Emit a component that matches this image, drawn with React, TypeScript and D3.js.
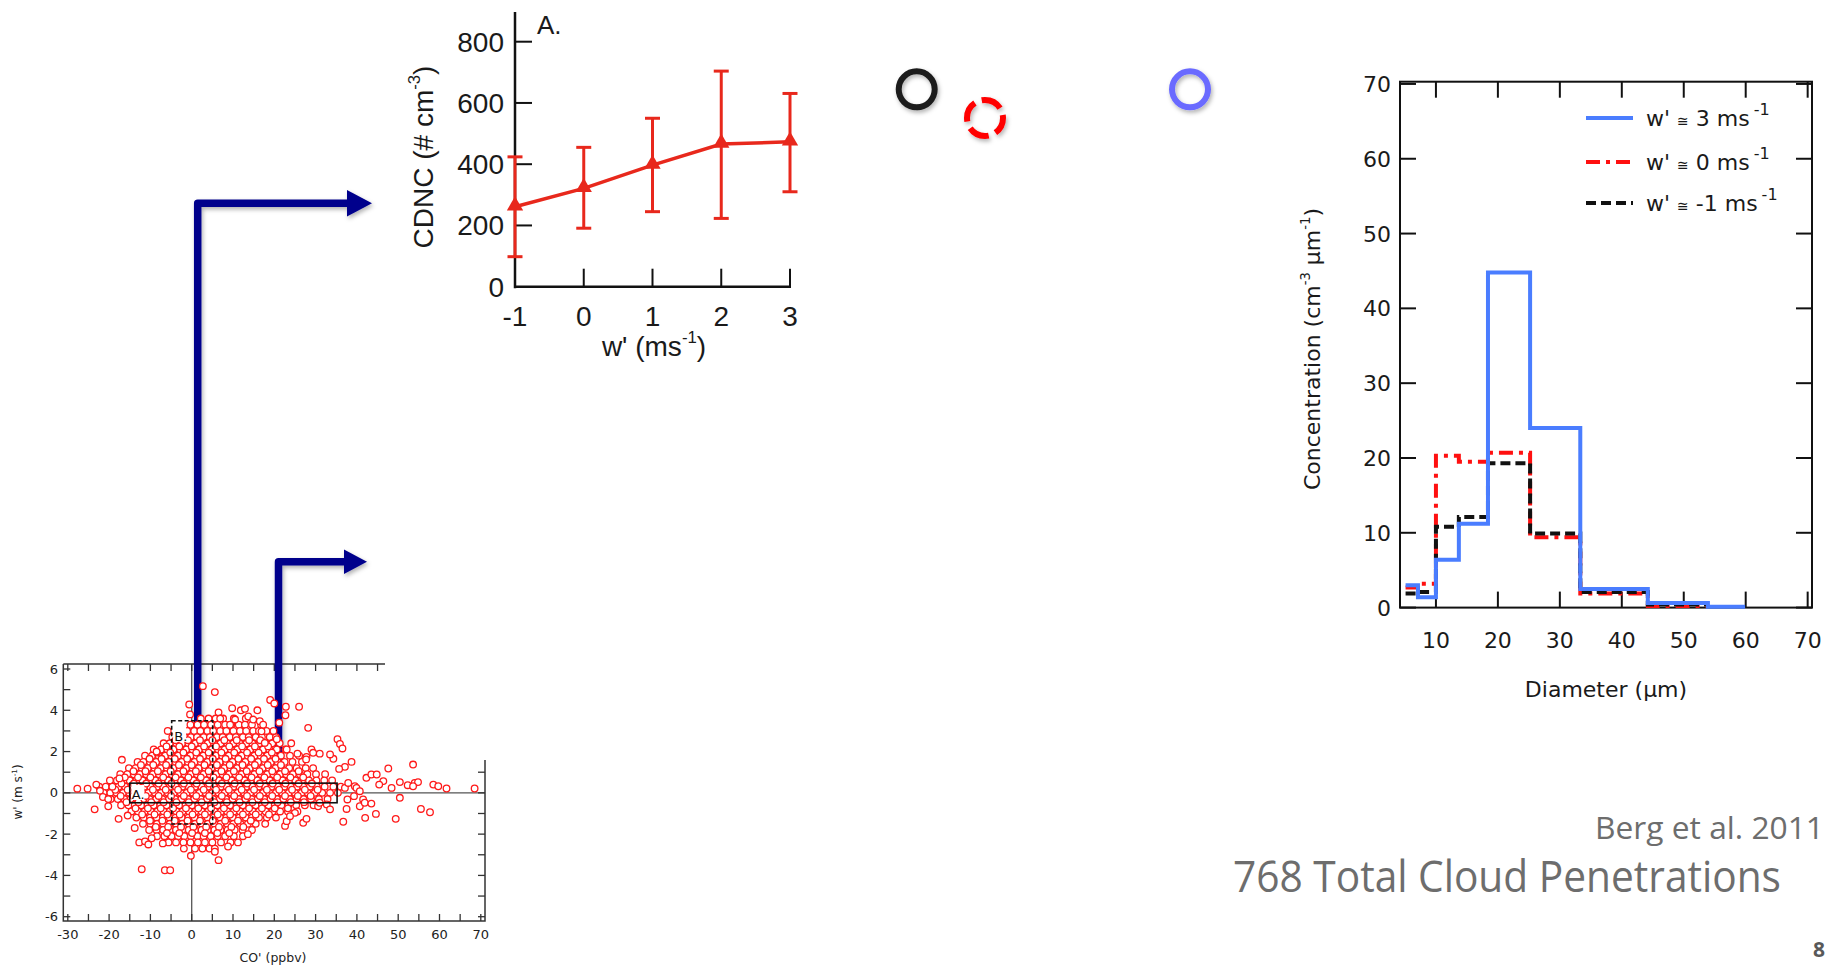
import React from 'react';
import * as d3 from 'd3';

const W = 1825, H = 969;

// ---- panel A: CDNC vs w'
const wBins = [-1, 0, 1, 2, 3];
const cdncMean = [261, 321, 397, 466, 473];
const cdncLow = [98, 191, 245, 223, 310];
const cdncHigh = [424, 455, 550, 704, 631];
const cdncTicks = [0, 200, 400, 600, 800];

// ---- droplet size distributions
const binEdges = [5.1, 7.1, 10, 13.7, 18.4, 25.2, 33.3, 44.2, 53.9, 59.9];
const concUp = [3.0, 1.4, 6.4, 11.2, 44.8, 24.0, 2.5, 0.6, 0.1];
const concZero = [2.7, 3.2, 20.3, 19.5, 20.7, 9.4, 1.9, 0.2];
const concDown = [1.9, 2.1, 10.8, 12.1, 19.3, 9.9, 2.1, 0.4];
const legendLabels = ['3', '0', '-1'];
const histXTicks = [10, 20, 30, 40, 50, 60, 70];
const histYTicks = [0, 10, 20, 30, 40, 50, 60, 70];

// ---- scatter of w' vs CO' : dense core read row by row (w', list of CO')
const coreRows: [number, number[]][] = [
  [3.6, [2.2, 4.1, 5.8, 7.6, 10.2, 13.1]],
  [3.3, [-0.3, 1.4, 3.0, 4.7, 6.3, 8.1, 9.6, 11.4, 12.9, 14.6, 16.8]],
  [3.0, [-2.6, -1.1, 0.6, 2.1, 3.8, 5.2, 6.9, 8.4, 10.1, 11.7, 13.2, 14.9, 16.3, 18.1]],
  [2.7, [-4.7, -3.2, -1.8, -0.2, 1.3, 2.9, 4.4, 6.1, 7.5, 9.2, 10.7, 12.4, 13.8, 15.5, 17.0, 18.9, 20.4]],
  [2.4, [-6.8, -5.3, -3.7, -2.3, -0.8, 0.9, 2.3, 3.9, 5.4, 7.0, 8.6, 10.1, 11.6, 13.3, 14.7, 16.4, 17.9, 19.5, 21.3]],
  [2.1, [-9.2, -7.4, -5.9, -4.4, -2.8, -1.3, 0.2, 1.8, 3.3, 4.9, 6.4, 8.0, 9.5, 11.1, 12.6, 14.2, 15.7, 17.3, 18.8, 20.6, 22.7]],
  [1.8, [-11.3, -9.6, -8.0, -6.4, -4.9, -3.3, -1.8, -0.3, 1.2, 2.8, 4.3, 5.9, 7.4, 9.0, 10.5, 12.1, 13.6, 15.2, 16.7, 18.3, 19.9, 21.6, 23.8, 26.0]],
  [1.5, [-13.1, -11.7, -10.1, -8.6, -7.0, -5.5, -3.9, -2.4, -0.9, 0.7, 2.2, 3.8, 5.3, 6.8, 8.4, 9.9, 11.5, 13.0, 14.6, 16.1, 17.7, 19.2, 20.8, 22.5, 24.4, 26.7]],
  [1.2, [-15.2, -13.6, -12.1, -10.6, -9.0, -7.5, -6.0, -4.4, -2.9, -1.3, 0.2, 1.7, 3.3, 4.8, 6.4, 7.9, 9.4, 11.0, 12.5, 14.1, 15.6, 17.2, 18.7, 20.3, 21.8, 23.6, 25.4, 27.6, 29.4]],
  [0.9, [-17.3, -15.6, -14.0, -12.5, -11.0, -9.4, -7.9, -6.3, -4.8, -3.3, -1.7, -0.2, 1.3, 2.9, 4.4, 6.0, 7.5, 9.1, 10.6, 12.1, 13.7, 15.2, 16.8, 18.3, 19.8, 21.4, 22.9, 24.5, 26.2, 28.0, 30.1, 32.3]],
  [0.6, [-19.8, -18.1, -16.5, -15.0, -13.4, -11.9, -10.3, -8.8, -7.3, -5.7, -4.2, -2.6, -1.1, 0.4, 2.0, 3.5, 5.1, 6.6, 8.1, 9.7, 11.2, 12.8, 14.3, 15.9, 17.4, 18.9, 20.5, 22.0, 23.6, 25.1, 26.7, 28.4, 30.2, 32.1, 34.0]],
  [0.3, [-22.4, -20.8, -19.2, -17.7, -16.1, -14.6, -13.0, -11.5, -10.0, -8.4, -6.9, -5.3, -3.8, -2.3, -0.7, 0.8, 2.4, 3.9, 5.4, 7.0, 8.5, 10.1, 11.6, 13.2, 14.7, 16.2, 17.8, 19.3, 20.9, 22.4, 24.0, 25.5, 27.0, 28.6, 30.3, 32.2, 34.3, 36.1]],
  [0.0, [-21.3, -19.7, -18.2, -16.6, -15.1, -13.5, -12.0, -10.5, -8.9, -7.4, -5.8, -4.3, -2.7, -1.2, 0.3, 1.9, 3.4, 5.0, 6.5, 8.0, 9.6, 11.1, 12.7, 14.2, 15.8, 17.3, 18.8, 20.4, 21.9, 23.5, 25.0, 26.6, 28.1, 29.8, 31.6, 33.5, 35.4]],
  [-0.3, [-19.6, -17.9, -16.3, -14.8, -13.2, -11.7, -10.2, -8.6, -7.1, -5.5, -4.0, -2.5, -0.9, 0.6, 2.2, 3.7, 5.2, 6.8, 8.3, 9.9, 11.4, 13.0, 14.5, 16.0, 17.6, 19.1, 20.7, 22.2, 23.8, 25.4, 27.1, 28.9, 30.8, 32.9]],
  [-0.6, [-17.1, -15.3, -13.8, -12.2, -10.7, -9.2, -7.6, -6.1, -4.5, -3.0, -1.5, 0.1, 1.6, 3.2, 4.7, 6.2, 7.8, 9.3, 10.9, 12.4, 14.0, 15.5, 17.0, 18.6, 20.1, 21.7, 23.4, 25.3, 27.4, 29.5]],
  [-0.9, [-14.6, -13.0, -11.4, -9.9, -8.3, -6.8, -5.3, -3.7, -2.2, -0.6, 0.9, 2.4, 4.0, 5.5, 7.1, 8.6, 10.2, 11.7, 13.2, 14.8, 16.3, 17.9, 19.6, 21.4, 23.3, 25.6]],
  [-1.2, [-13.4, -11.6, -10.1, -8.5, -7.0, -5.4, -3.9, -2.4, -0.8, 0.7, 2.3, 3.8, 5.3, 6.9, 8.4, 10.0, 11.5, 13.1, 14.6, 16.3, 18.2, 20.4]],
  [-1.5, [-11.8, -10.0, -8.4, -6.9, -5.3, -3.8, -2.3, -0.7, 0.8, 2.4, 3.9, 5.5, 7.0, 8.6, 10.1, 11.8, 13.6, 15.5, 17.8]],
  [-1.8, [-10.3, -8.5, -6.9, -5.4, -3.8, -2.3, -0.7, 0.8, 2.4, 3.9, 5.5, 7.0, 8.7, 10.4, 12.3, 14.6]],
  [-2.1, [-8.4, -6.6, -4.9, -3.3, -1.8, -0.2, 1.4, 2.9, 4.6, 6.3, 8.1, 10.2, 12.4]],
  [-2.4, [-5.6, -3.8, -2.0, -0.3, 1.5, 3.2, 5.0, 7.1, 9.4]],
  [-2.7, [-1.9, 0.8, 2.6, 4.3]],
];

// points lying between the rows above, where the cloud is thickest
const coreInfill: [number, number[]][] = [
  [2.55, [-3.9, -0.9, 2.0, 5.0, 7.9, 10.9, 13.9, 16.6]],
  [2.25, [-6.1, -3.0, 0.0, 3.0, 5.9, 9.1, 12.2, 15.3, 18.5]],
  [1.95, [-8.4, -5.2, -2.0, 1.1, 4.1, 7.2, 10.3, 13.4, 16.2, 19.4]],
  [1.65, [-10.2, -7.3, -4.1, -1.1, 2.0, 5.1, 8.2, 11.3, 14.4, 17.5, 20.3]],
  [1.35, [-12.3, -9.3, -6.2, -3.1, 0.0, 3.1, 6.1, 9.2, 12.3, 15.3, 18.4, 21.6]],
  [1.05, [-14.1, -11.2, -8.2, -5.1, -2.0, 1.0, 4.1, 7.2, 10.2, 13.3, 16.4, 19.5, 22.6, 25.9]],
  [0.75, [-16.2, -13.0, -10.0, -6.9, -3.9, -0.8, 2.2, 5.3, 8.4, 11.5, 14.5, 17.6, 20.7, 23.9, 27.0]],
  [0.45, [-17.0, -14.0, -11.0, -8.0, -4.9, -1.9, 1.2, 4.2, 7.3, 10.4, 13.4, 16.5, 19.6, 22.7, 25.9, 29.1]],
  [0.15, [-18.5, -15.5, -12.4, -9.4, -6.3, -3.3, -0.2, 2.9, 5.9, 9.0, 12.1, 15.1, 18.2, 21.2, 24.3, 27.4, 30.5]],
  [-0.15, [-17.2, -14.1, -11.1, -8.0, -5.0, -1.9, 1.1, 4.2, 7.3, 10.3, 13.4, 16.5, 19.5, 22.6, 25.7, 28.8]],
  [-0.45, [-15.8, -12.9, -9.8, -6.8, -3.7, -0.7, 2.4, 5.5, 8.5, 11.6, 14.7, 17.7, 20.8, 24.0, 27.2]],
  [-0.75, [-13.6, -10.6, -7.5, -4.5, -1.4, 1.6, 4.7, 7.8, 10.8, 13.9, 17.0, 20.1, 23.3]],
  [-1.05, [-12.0, -9.0, -5.9, -2.9, 0.2, 3.2, 6.3, 9.3, 12.4, 15.5, 18.7]],
  [-1.35, [-10.1, -7.1, -4.1, -1.0, 2.0, 5.1, 8.1, 11.2, 14.3]],
  [-1.65, [-8.7, -5.7, -2.6, 0.4, 3.5, 6.6, 9.6, 12.5]],
  [-1.95, [-6.0, -3.0, 0.1, 3.2, 6.2, 9.1]],
];

// scattered points outside the core (CO', w')
const outerPoints: [number, number][] = [
  [-27.7, 0.2], [-25.2, 0.2], [-23.1, 0.4], [-23.5, -0.8], [-22.2, 0.1], [-21.5, -0.2],
  [-20.2, -0.65], [-20.2, -0.3], [-19.2, 0.3], [-17.7, -1.26], [-16.9, 1.6], [-17.5, 0.7],
  [-15.5, -1.1], [-12.7, -2.4], [-11.3, -2.35], [-9.7, -2.2], [-12.1, -3.7], [-6.5, -3.75],
  [-5.2, -3.75], [-0.2, -3.05], [6.5, -3.26], [5.6, -2.7], [5.6, -2.85], [2.7, 5.17],
  [5.6, 4.88], [-0.6, 4.28], [-0.4, 3.8], [-5.8, 3.0], [-8.5, 2.0], [9.8, 4.1],
  [11.9, 4.0], [12.9, 4.07], [15.9, 4.0], [19.0, 4.5], [20.0, 4.33], [22.8, 4.17],
  [26.0, 4.17], [28.2, 3.15], [22.7, 3.76], [35.3, 2.6], [35.9, 2.37], [36.5, 2.15],
  [38.7, 1.5], [37.1, 1.26], [35.7, 1.16], [34.3, 1.65], [33.5, 1.86], [31.0, 1.9],
  [29.0, 2.1], [29.4, 1.94], [27.8, 1.74], [27.7, 1.62], [47.6, 1.18], [53.6, 1.37],
  [46.4, 0.57], [42.3, 0.73], [43.5, 0.89], [44.8, 0.89], [45.4, 0.4], [50.4, 0.52],
  [52.3, 0.37], [54.0, 0.48], [54.8, 0.52], [53.6, 0.32], [48.4, 0.24], [58.5, 0.4],
  [59.7, 0.32], [61.7, 0.21], [68.5, 0.21], [50.4, -0.24], [55.5, -0.78], [57.7, -0.94],
  [49.4, -1.26], [44.6, -1.02], [42.0, -1.21], [40.7, -0.65], [41.5, -0.32], [41.9, -0.48],
  [43.5, -0.52], [36.7, -1.4], [37.5, -0.78], [37.7, -0.32], [39.5, 0.32], [39.9, 0.24],
  [40.7, 0.08], [37.1, 0.24], [37.9, 0.48], [39.3, -0.16], [22.6, -1.6], [23.0, -1.37],
  [25.0, -0.97], [23.8, -1.13], [27.0, -1.45], [27.8, -1.26], [32.7, -0.56], [33.5, -0.8],
  [30.6, -0.65], [31.0, -0.48], [6.5, 3.9], [6.9, 3.6], [9.3, 3.3], [10.5, 3.55],
  [13.7, 3.7], [14.9, 3.55], [16.5, 3.47], [17.3, 3.3], [16.9, 2.98], [17.7, 2.42],
  [19.8, 3.0], [20.6, 2.6], [21.2, 3.4], [24.1, 2.4], [23.0, 2.1], [25.6, 1.9],
  [-13.8, -1.7], [-10.5, -2.5], [-7.0, -2.45], [11.2, -2.4], [8.8, -2.6], [13.6, -2.0],
];

const scXTicks = [-30, -20, -10, 0, 10, 20, 30, 40, 50, 60, 70];
const scYTicks = [-6, -4, -2, 0, 2, 4, 6];

const RED = '#e8281c';
const NAVY = '#00008c';

function Sup({ children, size, k = 0.6 }: { children: string; size: number; k?: number }) {
  return <tspan dy={-size * 0.45} fontSize={size * k}>{children}</tspan>;
}

function CdncChart() {
  const x = d3.scaleLinear().domain([-1, 3]).range([515, 790]);
  const y = d3.scaleLinear().domain([0, 800]).range([286.7, 41.7]);
  const line = d3.line<number>().x((d, i) => x(wBins[i])).y(d => y(d));
  const tri = d3.symbol().type(d3.symbolTriangle).size(115)();
  const fs = 28;
  return (
    <g fontFamily="Liberation Sans, Arial, sans-serif" fill="#1a1a1a">
      <line x1={515} x2={515} y1={12} y2={y(0) + 1.5} stroke="#111" strokeWidth={2.5} />
      <line x1={514} x2={x(3) + 1} y1={y(0)} y2={y(0)} stroke="#111" strokeWidth={2.5} />
      {cdncTicks.map(t => (
        <g key={t}>
          {t > 0 && <line x1={515} x2={532} y1={y(t)} y2={y(t)} stroke="#111" strokeWidth={2} />}
          <text x={504} y={y(t) + 10} fontSize={fs} textAnchor="end">{t}</text>
        </g>
      ))}
      {wBins.map(t => (
        <g key={t}>
          <line x1={x(t)} x2={x(t)} y1={y(0)} y2={y(0) - 18} stroke="#111" strokeWidth={2} />
          <text x={x(t)} y={326} fontSize={fs} textAnchor="middle">{t}</text>
        </g>
      ))}
      <text x={537} y={34} fontSize={26}>A.</text>
      <text transform="translate(433,157) rotate(-90)" fontSize={fs} textAnchor="middle">
        CDNC (# cm<Sup size={fs}>-3</Sup><tspan dy={fs * 0.45}>)</tspan>
      </text>
      <text x={654} y={356} fontSize={fs} textAnchor="middle">
        w' (ms<Sup size={fs}>-1</Sup><tspan dy={fs * 0.45}>)</tspan>
      </text>
      <path d={line(cdncMean) || ''} fill="none" stroke={RED} strokeWidth={3.5} />
      {wBins.map((w, i) => (
        <g key={w} stroke={RED} strokeWidth={3}>
          <line x1={x(w)} x2={x(w)} y1={y(cdncLow[i])} y2={y(cdncHigh[i])} />
          <line x1={x(w) - 7.5} x2={x(w) + 7.5} y1={y(cdncLow[i])} y2={y(cdncLow[i])} />
          <line x1={x(w) - 7.5} x2={x(w) + 7.5} y1={y(cdncHigh[i])} y2={y(cdncHigh[i])} />
          <path d={tri || ''} transform={`translate(${x(w)},${y(cdncMean[i]) - 1})`} fill={RED} stroke="none" />
        </g>
      ))}
    </g>
  );
}

function HistChart() {
  const x = d3.scaleLinear().domain([4.2, 70.7]).range([1400, 1812]);
  const y = d3.scaleLinear().domain([0, 70.3]).range([607.6, 81.7]);
  const step = (vals: number[]) => {
    const pts: [number, number][] = binEdges.slice(0, vals.length + 1).map((e, i) => [e, vals[Math.min(i, vals.length - 1)]]);
    return d3.line().x(d => x(d[0])).y(d => y(d[1])).curve(d3.curveStepAfter)(pts) || '';
  };
  const fs = 22;
  const [L, R, T, B] = [x.range()[0], x.range()[1], y.range()[1], y.range()[0]];
  const series = [
    { vals: concUp, color: '#4a7dff', dash: undefined },
    { vals: concZero, color: '#ff1010', dash: '14 6 4 6' },
    { vals: concDown, color: '#111', dash: '10 5' },
  ];
  const legendY = [118, 162, 203];
  return (
    <g fontFamily="DejaVu Sans, Verdana, sans-serif" fill="#1a1a1a">
      <rect x={L} y={T} width={R - L} height={B - T} fill="none" stroke="#111" strokeWidth={2} />
      {histYTicks.map(t => (
        <g key={t}>
          <line x1={L} x2={L + 16} y1={y(t)} y2={y(t)} stroke="#111" strokeWidth={2} />
          <line x1={R} x2={R - 16} y1={y(t)} y2={y(t)} stroke="#111" strokeWidth={2} />
          <text x={1391} y={y(t) + 8} fontSize={fs} textAnchor="end">{t}</text>
        </g>
      ))}
      {histXTicks.map(t => (
        <g key={t}>
          <line x1={x(t)} x2={x(t)} y1={B} y2={B - 16} stroke="#111" strokeWidth={2} />
          <line x1={x(t)} x2={x(t)} y1={T} y2={T + 16} stroke="#111" strokeWidth={2} />
          <text x={x(t)} y={648} fontSize={fs} textAnchor="middle">{t}</text>
        </g>
      ))}
      <text x={1606} y={697} fontSize={fs} textAnchor="middle">Diameter (μm)</text>
      <text transform="translate(1320,349) rotate(-90)" fontSize={fs} textAnchor="middle">
        Concentration (cm<Sup size={fs}>-3</Sup><tspan dy={fs * 0.45}> μm</tspan><Sup size={fs}>-1</Sup><tspan dy={fs * 0.45}>)</tspan>
      </text>
      {[series[1], series[2], series[0]].map((s, i) => (
        <path key={i} d={step(s.vals)} fill="none" stroke={s.color} strokeWidth={4} strokeDasharray={s.dash} />
      ))}
      {series.map((s, i) => (
        <g key={i}>
          <line x1={1586} x2={1633} y1={legendY[i]} y2={legendY[i]} stroke={s.color} strokeWidth={4} strokeDasharray={s.dash} />
          <text x={1646} y={legendY[i] + 8} fontSize={fs}>
            w' <tspan fontSize={14}>≅</tspan> {legendLabels[i]} ms<tspan dx={4} dy={-11} fontSize={16}>-1</tspan>
          </text>
        </g>
      ))}
    </g>
  );
}

const scX = d3.scaleLinear().domain([-30, 70]).range([67.8, 480.8]);
const scY = d3.scaleLinear().domain([-6, 6]).range([916.7, 669]);

function ScatterChart() {
  const x = scX, y = scY;
  const L = 63.3, R = 485, T = 664, B = 921;
  const yMinor = d3.range(-6, 7, 1);
  const xMinor = d3.range(-30, 71, 5);
  return (
    <g fontFamily="DejaVu Sans, Verdana, sans-serif" fill="#222">
      <line x1={L} x2={R} y1={y(0)} y2={y(0)} stroke="#555" strokeWidth={1.3} />
      <line x1={x(0)} x2={x(0)} y1={T} y2={B} stroke="#555" strokeWidth={1.3} />
      <path d={`M${L},${T}H385M${L},${T}V${B}H${R}V760`} fill="none" stroke="#333" strokeWidth={1.5} />
      {yMinor.map(t => (
        <g key={t}>
          <line x1={L} x2={L + 7} y1={y(t)} y2={y(t)} stroke="#333" strokeWidth={1.3} />
          {t <= 1 && <line x1={R} x2={R - 7} y1={y(t)} y2={y(t)} stroke="#333" strokeWidth={1.3} />}
        </g>
      ))}
      {xMinor.map(t => (
        <g key={t}>
          <line x1={x(t)} x2={x(t)} y1={B} y2={B - 7} stroke="#333" strokeWidth={1.3} />
          {t <= 45 && <line x1={x(t)} x2={x(t)} y1={T} y2={T + 7} stroke="#333" strokeWidth={1.3} />}
        </g>
      ))}
      {scYTicks.map(t => (
        <text key={t} x={58} y={y(t) + 4.5} fontSize={13} textAnchor="end">{t}</text>
      ))}
      {scXTicks.map(t => (
        <text key={t} x={x(t)} y={939} fontSize={13} textAnchor="middle">{t}</text>
      ))}
      <text x={273} y={962} fontSize={12.5} textAnchor="middle">CO' (ppbv)</text>
      <text transform="translate(22,792) rotate(-90)" fontSize={12} textAnchor="middle">
        w' (m s<Sup size={12}>-1</Sup><tspan dy={12 * 0.45}>)</tspan>
      </text>
    </g>
  );
}

function ScatterPoints() {
  const x = scX, y = scY;
  const pts: [number, number][] = [];
  [...coreRows, ...coreInfill].forEach(([w, cos]) => cos.forEach(c => pts.push([c, w])));
  outerPoints.forEach(p => pts.push(p));
  return (
    <g fontFamily="DejaVu Sans, Verdana, sans-serif">
      {pts.map((p, i) => (
        <circle key={i} cx={x(p[0])} cy={y(p[1])} r={3.3} fill="#fff" stroke="#ff1a1a" strokeWidth={1.3} />
      ))}
      <rect x={x(-15)} y={y(0.47)} width={x(35.2) - x(-15)} height={y(-0.48) - y(0.47)} fill="none" stroke="#111" strokeWidth={1.6} />
      <rect x={x(-4.85)} y={y(3.49)} width={x(5.08) - x(-4.85)} height={y(-1.51) - y(3.49)} fill="none" stroke="#111" strokeWidth={1.6} strokeDasharray="4 2.5" />
      <rect x={x(-14.6)} y={y(0.38)} width={13} height={15} fill="#fff" />
      <text x={x(-14.5)} y={y(-0.3)} fontSize={13} fill="#111">A.</text>
      <rect x={x(-4.5)} y={y(3.2)} width={13} height={15} fill="#fff" />
      <text x={x(-4.2)} y={y(2.5)} fontSize={13} fill="#111">B.</text>
    </g>
  );
}

function Arrows() {
  return (
    <g filter="url(#shadow)" fill={NAVY} stroke={NAVY}>
      <path d="M197.7,742V203.3H350" fill="none" strokeWidth={7.5} strokeLinejoin="round" />
      <path d="M347,190L372,203.3L347,216.5Z" stroke="none" />
      <path d="M278.5,773V561.7H347" fill="none" strokeWidth={7.5} strokeLinejoin="round" strokeLinecap="round" />
      <path d="M344,549.5L367,561.7L344,574Z" stroke="none" />
    </g>
  );
}

export default function App() {
  return (
    <svg width={W} height={H} style={{ position: 'absolute', left: 0, top: 0, background: '#fff' }}>
      <defs>
        <filter id="shadow" x="-20%" y="-20%" width="140%" height="140%">
          <feDropShadow dx={1.5} dy={2.5} stdDeviation={2} floodColor="#000" floodOpacity={0.3} />
        </filter>
      </defs>
      <rect width={W} height={H} fill="#fff" />
      <ScatterChart />
      <Arrows />
      <ScatterPoints />
      <CdncChart />
      <HistChart />
      <g filter="url(#shadow)" fill="none" strokeWidth={6}>
        <circle cx={916.7} cy={89.3} r={18} stroke="#1c1c1c" />
        <circle cx={985} cy={118} r={18} stroke="#ff0000" strokeDasharray="21 7.3" strokeDashoffset={4} />
        <circle cx={1190} cy={89.3} r={18} stroke="#6b6bff" />
      </g>
      <g fontFamily="Open Sans, sans-serif" fill="#6d6d6d">
        <text x={1595} y={839} fontSize={31} textLength={229} lengthAdjust="spacingAndGlyphs">Berg et al. 2011</text>
        <text x={1233} y={892} fontSize={43} textLength={548} lengthAdjust="spacingAndGlyphs">768 Total Cloud Penetrations</text>
        <text x={1813} y={957} fontSize={21} fontWeight="bold" fill="#595959">8</text>
      </g>
    </svg>
  );
}
